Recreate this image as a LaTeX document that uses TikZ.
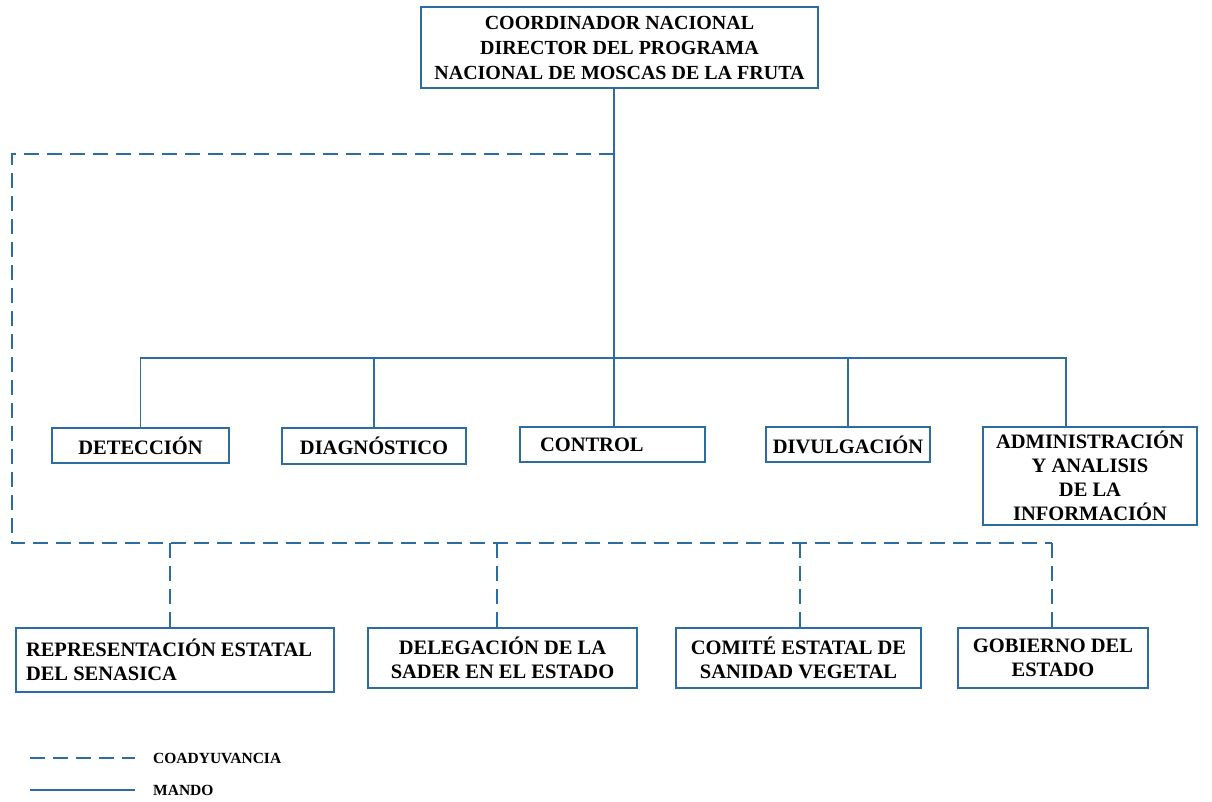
\documentclass[tikz,border=0pt]{standalone}
\usepackage{fontspec}
\setmainfont{Liberation Serif}
\definecolor{lineblue}{RGB}{44,108,160}
\begin{document}
\begin{tikzpicture}[x=1pt,y=-1pt,
  mando/.style={draw=lineblue, line width=1.8pt},
  coad/.style={draw=lineblue, line width=1.8pt, dash pattern=on 15pt off 8pt},
  box/.style={draw=lineblue, line width=1.8pt, font=\bfseries\fontsize{20.5}{24}\selectfont, align=center, inner sep=0pt},
  legtext/.style={font=\bfseries\fontsize{15.5}{17}\selectfont, anchor=west, inner sep=0pt}]
\useasboundingbox (0,0) rectangle (1212,801);

% boxes
\node[box, minimum width=397pt, minimum height=81pt, font=\bfseries\fontsize{20}{25}\selectfont] (top) at (619.5,47.5)
  {COORDINADOR NACIONAL\\DIRECTOR DEL PROGRAMA\\NACIONAL DE MOSCAS DE LA FRUTA};

\node[box, minimum width=177pt, minimum height=35pt] (det) at (140.5,445.5) {DETECCIÓN};
\node[box, minimum width=184pt, minimum height=36pt] (diag) at (374,446) {DIAGNÓSTICO};
\node[box, minimum height=35pt, text width=145pt, inner xsep=20pt, align=flush left] (ctrl) at (612.5,444.5) {CONTROL};
\node[box, minimum width=164pt, minimum height=35pt] (div) at (848,444.5) {DIVULGACIÓN};
\node[box, minimum width=214pt, minimum height=98pt] (adm) at (1090,476)
  {ADMINISTRACIÓN\\Y ANALISIS\\DE LA\\INFORMACIÓN};

\node[box, minimum height=64pt, text width=298pt, inner xsep=10pt, align=flush left] (rep) at (175,660)
  {REPRESENTACIÓN ESTATAL\\DEL SENASICA};
\node[box, minimum width=269pt, minimum height=60pt] (del) at (502.5,658)
  {DELEGACIÓN DE LA\\SADER EN EL ESTADO};
\node[box, minimum width=245pt, minimum height=60pt] (com) at (798.5,658)
  {COMITÉ ESTATAL DE\\SANIDAD VEGETAL};
\node[box, minimum width=190pt, minimum height=60pt] (gob) at (1053,658)
  {GOBIERNO DEL\\ESTADO};

% mando connectors
\coordinate (trunk) at (614,0);
\draw[mando] (trunk |- top.south) -- (trunk |- ctrl.north);
\draw[mando] (det.north) -- (det.north |- 0,358) -- (1066,358) -- (1066,0 |- adm.north);
\draw[mando] (diag.north) -- (diag.north |- 0,358);
\draw[mando] (div.north) -- (div.north |- 0,358);

% coadyuvancia connectors
\draw[coad] (trunk |- 0,154) -- (12,154) -- (12,543) -- (1052,543);
\draw[coad] (170,543) -- (170,0 |- rep.north);
\draw[coad] (497,543) -- (497,0 |- del.north);
\draw[coad] (800,543) -- (800,0 |- com.north);
\draw[coad] (1052,543) -- (1052,0 |- gob.north);

% legend
\coordinate (la1) at (30,758);
\coordinate (la2) at (135,758);
\coordinate (lb1) at (30,790);
\coordinate (lb2) at (135,790);
\draw[coad] (la1) -- (la2);
\draw[mando] (lb1) -- (lb2);
\node[legtext] (lca) at (153,758) {COADYUVANCIA};
\node[legtext] (lma) at (153,790) {MANDO};
\end{tikzpicture}
\end{document}
